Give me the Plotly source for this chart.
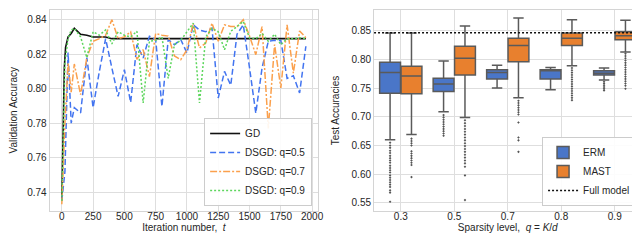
import plotly.graph_objects as go

# ---------------- Left panel data ----------------
t_gd = [0, 10, 20, 30, 40, 50, 75, 100, 150, 200, 250, 300, 350, 400, 450, 500, 600, 700, 800, 900,
        1000, 1100, 1200, 1300, 1400, 1500, 1600, 1700, 1800, 1900, 1950]
acc_gd = [0.735, 0.785, 0.812, 0.824, 0.828, 0.830, 0.832, 0.835, 0.8315, 0.831, 0.830, 0.830, 0.830,
          0.829, 0.829, 0.829, 0.829, 0.829, 0.829, 0.829, 0.829, 0.829, 0.829, 0.829, 0.829, 0.829,
          0.829, 0.829, 0.829, 0.829, 0.829]

t_dsgd = [0, 25, 50, 75, 100, 150, 200, 250, 300, 350, 400, 450, 500, 550, 600, 650, 700, 750, 800,
          850, 900, 950, 1000, 1050, 1100, 1150, 1200, 1250, 1300, 1350, 1400, 1450, 1500, 1550,
          1600, 1650, 1700, 1750, 1800, 1850, 1900, 1950]
acc_q05 = [0.735, 0.752, 0.821, 0.780, 0.789, 0.786, 0.818, 0.789, 0.810, 0.829, 0.812, 0.7955,
           0.811, 0.792, 0.8255, 0.8178, 0.8304, 0.8285, 0.7897, 0.8285, 0.8255, 0.8285, 0.8207,
           0.837, 0.834, 0.833, 0.835, 0.7946, 0.810, 0.802, 0.8316, 0.837, 0.812, 0.7858, 0.812,
           0.8275, 0.828, 0.828, 0.806, 0.8075, 0.7975, 0.8246]
acc_q07 = [0.733, 0.780, 0.815, 0.798, 0.8143, 0.7965, 0.818, 0.8275, 0.829, 0.831, 0.840, 0.829,
           0.830, 0.833, 0.817, 0.8226, 0.807, 0.832, 0.831, 0.8305, 0.819, 0.8168, 0.8225, 0.838,
           0.8236, 0.8265, 0.838, 0.8275, 0.837, 0.836, 0.836, 0.840, 0.8305, 0.8197, 0.836, 0.777,
           0.8256, 0.8004, 0.837, 0.809, 0.8335, 0.8295]
acc_q09 = [0.735, 0.815, 0.829, 0.834, 0.835, 0.830, 0.818, 0.833, 0.831, 0.834, 0.826, 0.833,
           0.831, 0.830, 0.8333, 0.7917, 0.8275, 0.828, 0.830, 0.806, 0.8255, 0.828, 0.833, 0.838,
           0.7917, 0.830, 0.835, 0.833, 0.8226, 0.8333, 0.836, 0.839, 0.8294, 0.829, 0.832, 0.8275,
           0.8316, 0.8255, 0.829, 0.829, 0.8295, 0.829]

# ---------------- Right panel data ----------------
sparsity_labels = ["0.3", "0.5", "0.7", "0.8", "0.9"]
erm_q1 = [0.741, 0.744, 0.766, 0.766, 0.773]
erm_median = [0.777, 0.757, 0.777, 0.780, 0.776]
erm_q3 = [0.795, 0.767, 0.782, 0.782, 0.780]
erm_low = [0.660, 0.709, 0.750, 0.747, 0.764]
erm_high = [0.846, 0.797, 0.790, 0.786, 0.785]
mast_q1 = [0.740, 0.773, 0.796, 0.824, 0.834]
mast_median = [0.771, 0.802, 0.824, 0.837, 0.841]
mast_q3 = [0.788, 0.823, 0.837, 0.846, 0.848]
mast_low = [0.669, 0.699, 0.733, 0.789, 0.813]
mast_high = [0.846, 0.858, 0.872, 0.869, 0.868]
full_model_acc = 0.8465

erm_outliers = [
    [0.655, 0.650, 0.646, 0.641, 0.637, 0.632, 0.628, 0.624, 0.620, 0.615, 0.611, 0.607, 0.603,
     0.598, 0.594, 0.590, 0.586, 0.582, 0.578, 0.572, 0.568, 0.552],
    [0.703, 0.699, 0.695, 0.691, 0.687, 0.683, 0.679, 0.675, 0.671, 0.667],
    [],
    [],
    [0.761, 0.758, 0.755, 0.752, 0.749, 0.746],
]
mast_outliers = [
    [0.662, 0.658, 0.654, 0.650, 0.640, 0.636, 0.632, 0.628, 0.624, 0.620, 0.616, 0.595],
    [0.694, 0.689, 0.684, 0.679, 0.674, 0.669, 0.664, 0.659, 0.654, 0.649, 0.644, 0.639, 0.634,
     0.629, 0.624, 0.619, 0.613, 0.598, 0.555],
    [0.728, 0.724, 0.720, 0.716, 0.712, 0.708, 0.704, 0.690, 0.664, 0.659, 0.639],
    [0.785, 0.781, 0.777, 0.773, 0.769, 0.765, 0.761, 0.757, 0.753, 0.749, 0.745, 0.741, 0.737,
     0.733, 0.729],
    [0.810, 0.806, 0.802, 0.798, 0.794, 0.790, 0.786, 0.782, 0.778, 0.774, 0.770, 0.766, 0.762,
     0.758, 0.754, 0.749],
]

# ---------------- Styling ----------------
FONT = "Liberation Sans"
TXT = "#262626"
GRID = "#dedede"
BORDER = "#d4d4d4"
BLUE_L, ORANGE_L, GREEN_L = "#4274f0", "#fba04c", "#5cd65c"
ERM_C, MAST_C = "#4a76c8", "#e8802e"
BOXLINE = "#5a5a5a"

fig = go.Figure()

# left panel
fig.add_trace(go.Scatter(x=t_gd, y=acc_gd, mode="lines", name="GD",
                         line=dict(color="#111111", width=1.6), xaxis="x", yaxis="y", legend="legend"))
fig.add_trace(go.Scatter(x=t_dsgd, y=acc_q05, mode="lines", name="DSGD: q=0.5",
                         line=dict(color=BLUE_L, width=1.5, dash="6px,3px"), xaxis="x", yaxis="y", legend="legend"))
fig.add_trace(go.Scatter(x=t_dsgd, y=acc_q07, mode="lines", name="DSGD: q=0.7",
                         line=dict(color=ORANGE_L, width=1.5, dash="7px,2px,2px,2px"), xaxis="x", yaxis="y", legend="legend"))
fig.add_trace(go.Scatter(x=t_dsgd, y=acc_q09, mode="lines", name="DSGD: q=0.9",
                         line=dict(color=GREEN_L, width=1.5, dash="2px,2px"), xaxis="x", yaxis="y", legend="legend"))

# right panel
pos = list(range(len(sparsity_labels)))
erm_x = [p - 0.2 for p in pos]
mast_x = [p + 0.2 for p in pos]
fig.add_trace(go.Box(x=erm_x, q1=erm_q1, median=erm_median, q3=erm_q3, lowerfence=erm_low,
                     upperfence=erm_high, width=0.39, whiskerwidth=0.5, fillcolor=ERM_C,
                     line=dict(color=BOXLINE, width=1.5), boxpoints=False, name="ERM",
                     xaxis="x2", yaxis="y2", legend="legend2", hoverinfo="skip"))
fig.add_trace(go.Box(x=mast_x, q1=mast_q1, median=mast_median, q3=mast_q3, lowerfence=mast_low,
                     upperfence=mast_high, width=0.39, whiskerwidth=0.5, fillcolor=MAST_C,
                     line=dict(color=BOXLINE, width=1.5), boxpoints=False, name="MAST",
                     xaxis="x2", yaxis="y2", legend="legend2", hoverinfo="skip"))

ox, oy = [], []
for i, vals in enumerate(erm_outliers):
    ox += [erm_x[i]] * len(vals)
    oy += vals
for i, vals in enumerate(mast_outliers):
    ox += [mast_x[i]] * len(vals)
    oy += vals
fig.add_trace(go.Scatter(x=ox, y=oy, mode="markers", showlegend=False,
                         marker=dict(symbol="diamond", size=2.0, color="#555555"),
                         xaxis="x2", yaxis="y2"))
fig.add_trace(go.Scatter(x=[-0.5, 4.5], y=[full_model_acc, full_model_acc], mode="lines",
                         name="Full model", line=dict(color="#111111", width=1.5, dash="2px,2px"),
                         xaxis="x2", yaxis="y2", legend="legend2"))

ax_common = dict(showgrid=True, gridcolor=GRID, gridwidth=1, zeroline=False, showline=True,
                 linecolor=BORDER, linewidth=1, mirror=True, ticks="",
                 tickfont=dict(family=FONT, size=10, color=TXT))

Y0, Y1 = 1 - 203 / 249, 1 - 1.5 / 249

fig.update_layout(
    width=640, height=249, margin=dict(l=0, r=0, t=0, b=0),
    paper_bgcolor="white", plot_bgcolor="white",
    font=dict(family=FONT, size=10, color=TXT),
    xaxis=dict(domain=[42 / 640, 313 / 640], range=[-97.5, 2047.5], tickvals=list(range(0, 2001, 250)),
               ticklabelstandoff=-4,
               title=dict(text="Iteration number,  <i>t</i>", font=dict(family=FONT, size=10, color=TXT), standoff=1),
               anchor="y", **ax_common),
    yaxis=dict(domain=[Y0, Y1], range=[0.7291, 0.8459], tickvals=[0.74, 0.76, 0.78, 0.80, 0.82, 0.84],
               tickformat=".2f",
               title=dict(text="Validation Accuracy", font=dict(family=FONT, size=10, color=TXT), standoff=7),
               anchor="x", **ax_common),
    xaxis2=dict(domain=[369.5 / 640, 639.5 / 640], range=[-0.5, 4.5], tickvals=pos, ticktext=sparsity_labels,
                ticklabelstandoff=-4,
                title=dict(text="Sparsity level,  <i>q</i> = <i>K</i>/<i>d</i>", font=dict(family=FONT, size=10, color=TXT), standoff=1),
                anchor="y2", **ax_common),
    yaxis2=dict(domain=[Y0, 1 - 2 / 249], range=[0.536, 0.886],
                tickvals=[0.55, 0.60, 0.65, 0.70, 0.75, 0.80, 0.85], tickformat=".2f",
                title=dict(text="Test Accuracies", font=dict(family=FONT, size=10, color=TXT), standoff=10),
                anchor="x2", **ax_common),
    legend=dict(x=307 / 640, y=1 - 198 / 249, xanchor="right", yanchor="bottom",
                bgcolor="rgba(255,255,255,0.9)", bordercolor="#cccccc", borderwidth=1,
                font=dict(family=FONT, size=10, color=TXT), tracegroupgap=0, itemwidth=30),
    legend2=dict(x=634 / 640, y=1 - 198 / 249, xanchor="right", yanchor="bottom",
                 bgcolor="rgba(255,255,255,0.9)", bordercolor="#cccccc", borderwidth=1,
                 font=dict(family=FONT, size=10, color=TXT), tracegroupgap=0, itemwidth=30),
    showlegend=True,
)

fig.write_html("out.html")
